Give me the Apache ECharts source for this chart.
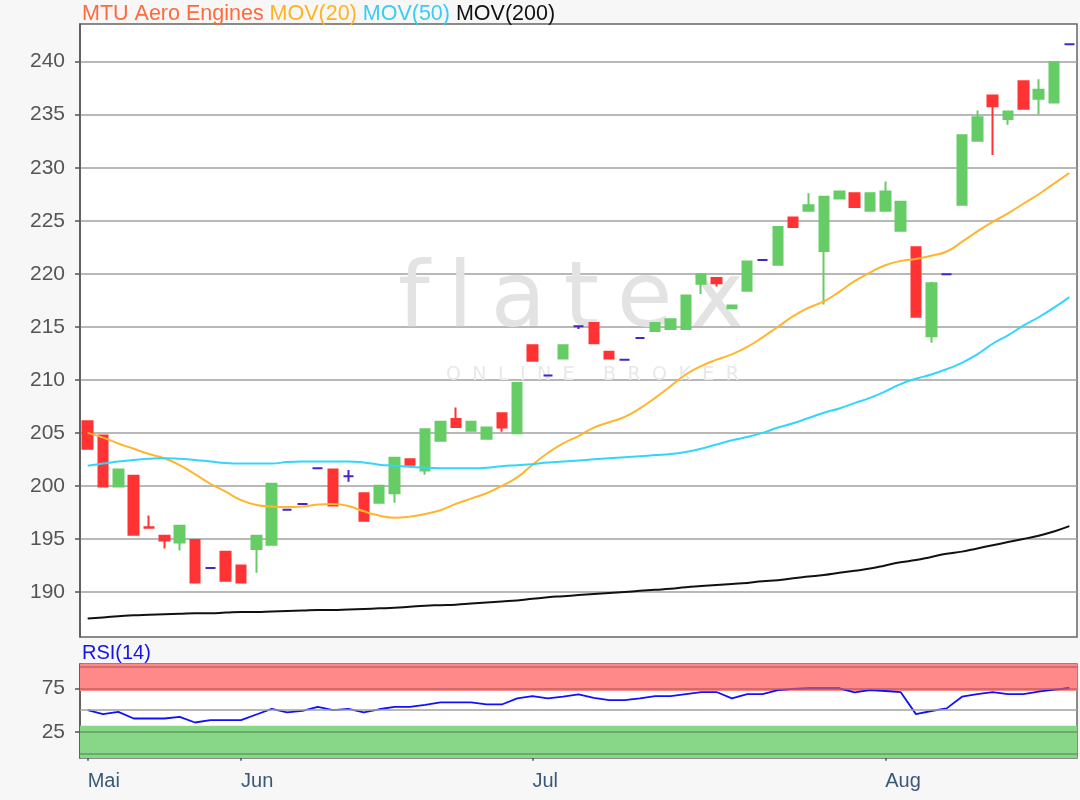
<!DOCTYPE html>
<html>
<head>
<meta charset="utf-8">
<title>MTU Aero Engines</title>
<script src="https://cdn.jsdelivr.net/npm/echarts@6/dist/echarts.min.js"></script>
<style>
  html, body { margin: 0; padding: 0; background: #f7f7f7; }
  #chart { width: 1080px; height: 800px; }
</style>
</head>
<body>
<div id="chart"></div>
<script>
// trading days shown on the chart
var dates = [
  '2019-05-17', '2019-05-20', '2019-05-21', '2019-05-22', '2019-05-23', '2019-05-24', '2019-05-27', '2019-05-28', '2019-05-29', '2019-05-31',
  '2019-06-03', '2019-06-04', '2019-06-05', '2019-06-06', '2019-06-07', '2019-06-11', '2019-06-12', '2019-06-13', '2019-06-14', '2019-06-17',
  '2019-06-18', '2019-06-19', '2019-06-20', '2019-06-21', '2019-06-24', '2019-06-25', '2019-06-26', '2019-06-27', '2019-06-28',
  '2019-07-01', '2019-07-02', '2019-07-03', '2019-07-04', '2019-07-05', '2019-07-08', '2019-07-09', '2019-07-10', '2019-07-11', '2019-07-12',
  '2019-07-15', '2019-07-16', '2019-07-17', '2019-07-18', '2019-07-19', '2019-07-22', '2019-07-23', '2019-07-24', '2019-07-25', '2019-07-26',
  '2019-07-29', '2019-07-30', '2019-07-31',
  '2019-08-01', '2019-08-02', '2019-08-05', '2019-08-06', '2019-08-07', '2019-08-08', '2019-08-09', '2019-08-12', '2019-08-13', '2019-08-14',
  '2019-08-15', '2019-08-16', '2019-08-19'
];

var opens = [
  206.1, 204.75, 199.95, 200.95, 196.1, 195.3, 194.65, 194.9, 192.25, 193.8,
  192.5, 194.05, 194.45, 197.75, 198.3, 201.65, 201.55, 200.9, 199.3, 198.4,
  199.3, 202.5, 201.45, 204.25, 206.3, 205.2, 204.45, 206.85, 204.95, 213.25,
  210.4, 212.0, 215.05, 215.35, 212.65, 211.9, 213.95, 214.6, 214.8, 214.8,
  219.05, 219.6, 216.75, 218.4, 221.3, 220.85, 225.3, 225.95, 222.15, 227.1,
  227.6, 225.95, 225.95, 224.05, 222.5, 214.1, 219.95, 226.5, 232.55, 236.8,
  234.6, 238.15, 236.5, 236.15, 241.65
];
var closes = [
  203.5, 199.95, 201.55, 195.4, 196.05, 194.85, 196.25, 190.9, 192.25, 191.05,
  190.9, 195.3, 200.2, 197.75, 198.3, 201.65, 198.15, 200.9, 196.7, 200.0,
  202.65, 202.0, 205.35, 206.05, 205.55, 206.05, 205.5, 205.5, 209.7, 211.8,
  210.4, 213.25, 215.05, 213.45, 212.0, 211.9, 213.95, 215.35, 215.7, 217.95,
  219.95, 219.1, 217.0, 221.15, 221.3, 224.4, 224.4, 226.45, 227.25, 227.75,
  226.3, 227.6, 227.75, 226.8, 215.95, 219.1, 219.95, 233.05, 234.75, 235.8,
  235.3, 235.55, 237.35, 239.95, 241.65
];
var lows = [
  203.5, 199.95, 199.95, 195.4, 196.05, 194.1, 193.9, 190.9, 192.25, 191.05,
  190.9, 191.8, 194.45, 197.75, 198.3, 201.65, 198.15, 200.4, 196.7, 198.4,
  198.4, 202.0, 201.05, 204.25, 205.55, 205.2, 204.45, 205.1, 204.95, 211.8,
  210.4, 212.0, 214.8, 213.45, 212.0, 211.9, 213.95, 214.6, 214.8, 214.8,
  218.1, 218.8, 216.75, 218.4, 221.3, 220.85, 224.4, 225.95, 217.1, 227.1,
  226.3, 225.95, 225.95, 224.05, 215.95, 213.5, 219.95, 226.5, 232.55, 231.2,
  234.05, 235.55, 235.05, 236.15, 241.65
];
var highs = [
  206.1, 204.75, 201.55, 200.95, 197.2, 195.3, 196.25, 194.9, 192.25, 193.8,
  192.5, 195.3, 200.2, 197.75, 198.3, 201.65, 201.55, 201.5, 199.3, 200.0,
  202.65, 202.5, 205.35, 206.05, 207.4, 206.05, 205.5, 206.85, 209.7, 213.25,
  210.4, 213.25, 215.05, 215.35, 212.65, 211.9, 213.95, 215.35, 215.7, 217.95,
  219.95, 219.6, 217.0, 221.15, 221.3, 224.4, 225.3, 227.6, 227.25, 227.75,
  227.6, 227.6, 228.7, 226.8, 222.5, 219.25, 219.95, 233.05, 235.4, 236.8,
  235.3, 238.15, 238.35, 239.95, 241.65
];

var mov20 = [
  205.0, 204.55, 204.0, 203.5, 203.0, 202.6, 201.95, 201.1, 200.2, 199.45,
  198.65, 198.2, 198.05, 198.0, 198.05, 198.25, 198.3, 198.1, 197.6, 197.2,
  197.0, 197.1, 197.35, 197.7, 198.3, 198.8, 199.3, 200.0, 200.8, 202.0,
  203.1, 204.0, 204.7, 205.5, 206.0, 206.5, 207.3, 208.3, 209.4, 210.5,
  211.3, 211.9, 212.4, 213.1, 214.0, 215.0, 216.0, 216.8, 217.4, 218.3,
  219.3, 220.1, 220.8, 221.2, 221.4, 221.7, 222.1, 223.0, 224.0, 224.9,
  225.7, 226.6, 227.5, 228.5, 229.5
];
var mov50 = [
  201.9, 202.1, 202.3, 202.45, 202.55, 202.6, 202.55, 202.45, 202.3, 202.15,
  202.1, 202.1, 202.1, 202.25, 202.3, 202.3, 202.3, 202.3, 202.2, 202.0,
  201.9, 201.8, 201.7, 201.67, 201.65, 201.65, 201.7, 201.85, 201.95, 202.05,
  202.2, 202.3, 202.4, 202.5, 202.6, 202.7, 202.8, 202.9, 203.0, 203.2,
  203.5, 203.9, 204.3, 204.6, 205.0, 205.5, 205.9, 206.4, 206.9, 207.3,
  207.8, 208.3, 208.9, 209.6, 210.1, 210.5, 211.0, 211.6, 212.4, 213.4,
  214.2, 215.1, 215.9, 216.8, 217.8
];
var mov200 = [
  187.5, 187.6, 187.7, 187.8, 187.85, 187.9, 187.95, 188.0, 188.0, 188.05,
  188.1, 188.1, 188.15, 188.2, 188.25, 188.3, 188.3, 188.35, 188.4, 188.45,
  188.5, 188.6, 188.7, 188.75, 188.8, 188.9, 189.0, 189.1, 189.2, 189.35,
  189.5, 189.6, 189.7, 189.8, 189.9, 190.0, 190.1, 190.2, 190.3, 190.45,
  190.55, 190.65, 190.75, 190.85, 191.0, 191.1, 191.3, 191.45, 191.6, 191.8,
  192.0, 192.2, 192.5, 192.8, 193.0, 193.3, 193.6, 193.8, 194.1, 194.4,
  194.7, 195.0, 195.3, 195.7, 196.2
];
var rsi14 = [
  50, 45.4, 48, 40.4, 40.4, 40.4, 42.3, 35.8, 38.5, 38.5,
  38.5, 45, 51.5, 47.3, 49.2, 53.8, 50, 51.5, 47.3, 51,
  53.8, 53.8, 56, 58.8, 58.8, 58.8, 56.5, 56.5, 63.5, 66.2,
  63.5, 65.5, 68, 64, 61.5, 61.5, 63.5, 66, 66.2, 68.5,
  70.8, 70.8, 63.5, 68.5, 68.5, 73, 74.5, 75, 75, 75,
  70.4, 73.1, 72, 70.8, 45.4, 49, 52, 65.4, 68.5, 70.8,
  68.5, 68.5, 71.2, 73.5, 75.4
];

var priceTicks = [190, 195, 200, 205, 210, 215, 220, 225, 230, 235, 240];
var rsiTicks = [25, 75];
var monthNames = { '05': 'Mai', '06': 'Jun', '07': 'Jul', '08': 'Aug' };

var font = '"Liberation Sans", Arial, sans-serif';

function isMonthStart(i) {
  return i === 0 || dates[i].slice(5, 7) !== dates[i - 1].slice(5, 7);
}

var candles = dates.map(function (d, i) {
  return [opens[i], closes[i], lows[i], highs[i]];
});

var chart = echarts.init(document.getElementById('chart'));

var option = {
  animation: false,
  backgroundColor: '#f7f7f7',
  textStyle: { fontFamily: font },
  title: [
    {
      text: '{a|MTU Aero Engines} {b|MOV(20)} {c|MOV(50)} {d|MOV(200)}',
      left: 82,
      top: 3,
      padding: 0,
      textStyle: {
        fontSize: 21.5,
        fontWeight: 'normal',
        fontFamily: font,
        rich: {
          a: { color: '#ff6a3d', fontSize: 21.5, fontFamily: font },
          b: { color: '#ffb224', fontSize: 21.5, fontFamily: font },
          c: { color: '#38cdf5', fontSize: 21.5, fontFamily: font },
          d: { color: '#111111', fontSize: 21.5, fontFamily: font }
        }
      }
    },
    {
      text: 'RSI(14)',
      left: 82,
      top: 643,
      padding: 0,
      textStyle: { fontSize: 20, fontWeight: 'normal', color: '#1414e6', fontFamily: font }
    }
  ],
  // flatex watermark behind the candles
  graphic: [
    {
      type: 'text',
      z: 1,
      left: 398,
      top: 258,
      style: { text: 'f\u2009l\u2009a\u2009t\u2009e\u2009x', font: '90px "DejaVu Sans"', fill: '#e3e3e3' }
    },
    {
      type: 'text',
      z: 1,
      left: 446,
      top: 366,
      style: { text: 'O\u2002\u200aN\u2002\u200aL\u2002\u200aI\u2002\u200aN\u2002\u200aE\u2003\u2002B\u2002\u200aR\u2002\u200aO\u2002\u200aK\u2002\u200aE\u2002\u200aR', font: '19px "DejaVu Sans"', fill: '#e8e8e8' }
    }
  ],
  grid: [
    { left: 80, right: 3, top: 24, height: 613, show: true, backgroundColor: '#ffffff', borderColor: '#666', borderWidth: 1.5 },
    { left: 80, right: 3, top: 664, height: 94, show: true, backgroundColor: '#ffffff', borderColor: '#666', borderWidth: 1.5 }
  ],
  xAxis: [
    {
      type: 'category',
      gridIndex: 0,
      data: dates,
      boundaryGap: true,
      axisLine: { show: false },
      axisTick: { show: false },
      axisLabel: { show: false },
      splitLine: { show: false }
    },
    {
      type: 'category',
      gridIndex: 1,
      data: dates,
      boundaryGap: true,
      axisLine: { show: true, lineStyle: { color: '#666', width: 1.5 } },
      axisTick: {
        show: true,
        alignWithLabel: true,
        length: 7,
        interval: function (i) { return isMonthStart(i); },
        lineStyle: { color: '#3a5878', width: 1.5 }
      },
      axisLabel: {
        interval: function (i) { return isMonthStart(i); },
        formatter: function (v) { return monthNames[v.slice(5, 7)]; },
        align: 'left',
        color: '#3a5878',
        fontSize: 20,
        margin: 13,
        fontFamily: font
      },
      splitLine: { show: false }
    }
  ],
  yAxis: [
    {
      type: 'value',
      gridIndex: 0,
      min: 185.75,
      max: 243.55,
      splitNumber: 12,
      minInterval: 5,
      maxInterval: 5,
      axisLine: { show: true, lineStyle: { color: '#555', width: 1.5 } },
      axisTick: { show: true, length: 5, customValues: priceTicks, lineStyle: { color: '#555', width: 1.5 } },
      axisLabel: { customValues: priceTicks, color: '#555', fontSize: 21, margin: 15, fontFamily: font },
      splitLine: { show: true, lineStyle: { color: '#a0a0a0', width: 1.5 } }
    },
    {
      type: 'value',
      gridIndex: 1,
      min: -5,
      max: 103,
      axisLine: { show: true, lineStyle: { color: '#555', width: 1.5 } },
      axisTick: { show: true, length: 5, customValues: rsiTicks, lineStyle: { color: '#555', width: 1.5 } },
      axisLabel: { customValues: rsiTicks, color: '#555', fontSize: 21, margin: 15, fontFamily: font },
      splitLine: { show: false }
    }
  ],
  series: [
    {
      name: 'MTU Aero Engines',
      type: 'candlestick',
      xAxisIndex: 0,
      yAxisIndex: 0,
      data: candles,
      barWidth: 10,
      itemStyle: {
        color: '#66cc66',
        color0: '#ff3333',
        borderColor: '#66cc66',
        borderColor0: '#ff3333',
        borderColorDoji: '#4b22c8',
        borderWidth: 2
      }
    },
    {
      name: 'MOV(20)',
      type: 'line',
      xAxisIndex: 0,
      yAxisIndex: 0,
      data: mov20,
      symbol: 'none',
      smooth: true,
      lineStyle: { color: '#ffb52e', width: 2 }
    },
    {
      name: 'MOV(50)',
      type: 'line',
      xAxisIndex: 0,
      yAxisIndex: 0,
      data: mov50,
      symbol: 'none',
      smooth: true,
      lineStyle: { color: '#33d6fa', width: 2 }
    },
    {
      name: 'MOV(200)',
      type: 'line',
      xAxisIndex: 0,
      yAxisIndex: 0,
      data: mov200,
      symbol: 'none',
      smooth: true,
      lineStyle: { color: '#111111', width: 2 }
    },
    {
      name: 'RSI(14)',
      type: 'line',
      xAxisIndex: 1,
      yAxisIndex: 1,
      data: rsi14,
      symbol: 'none',
      lineStyle: { color: '#1010ff', width: 1.8 },
      markArea: {
        silent: true,
        data: [
          [{ yAxis: 72, itemStyle: { color: '#ff8888' } }, { yAxis: 103 }],
          [{ yAxis: -5, itemStyle: { color: '#88d788' } }, { yAxis: 32 }]
        ]
      },
      markLine: {
        silent: true,
        symbol: 'none',
        label: { show: false },
        data: [
          { yAxis: 100, lineStyle: { color: '#c46262', width: 1.5, type: 'solid' } },
          { yAxis: 75, lineStyle: { color: '#c46262', width: 1.5, type: 'solid' } },
          { yAxis: 50, lineStyle: { color: '#a0a0a0', width: 1.5, type: 'solid' } },
          { yAxis: 25, lineStyle: { color: '#5c9f5c', width: 1.5, type: 'solid' } },
          { yAxis: 0, lineStyle: { color: '#5c9f5c', width: 1.5, type: 'solid' } }
        ]
      }
    }
  ]
};

chart.setOption(option);
</script>
</body>
</html>
